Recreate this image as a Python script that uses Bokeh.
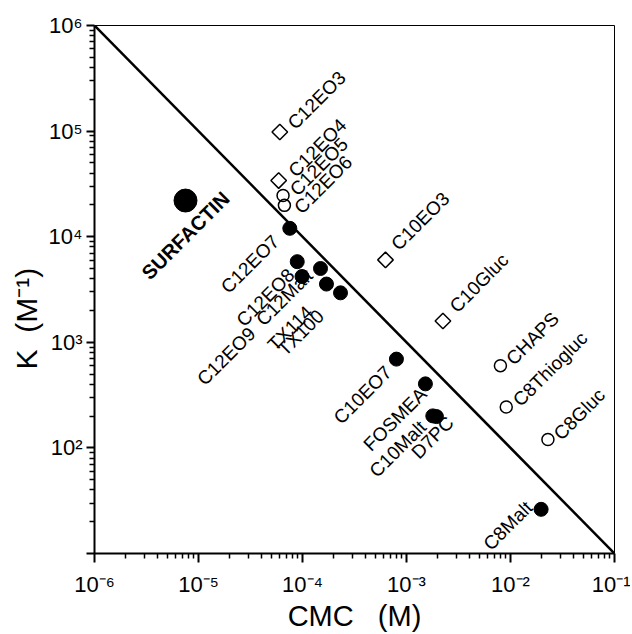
import math
from bokeh.plotting import figure
from bokeh.models import ColumnDataSource, FixedTicker, Range1d
from bokeh.core.properties import value
from bokeh.embed import file_html
from bokeh.resources import INLINE

# ---------------- data ----------------
surf_name = ["SURFACTIN"]
surf_cmc = [7.5e-6]
surf_k = [2.2e4]

filled_names = ["C12EO7", "C12EO8", "C12EO9", "C12Malt", "TX114", "TX100",
                "C10EO7", "FOSMEA", "C10Malt", "D7PC", "C8Malt"]
filled_cmc = [7.55e-5, 8.9e-5, 9.9e-5, 1.49e-4, 1.70e-4, 2.32e-4,
              8.0e-4, 1.52e-3, 1.79e-3, 1.94e-3, 1.97e-2]
filled_k = [1.2e4, 5.8e3, 4.2e3, 5.0e3, 3.56e3, 2.94e3,
            693, 404, 201, 198, 26.2]

open_names = ["C12EO5", "C12EO6", "CHAPS", "C8Thiogluc", "C8Gluc"]
open_cmc = [6.5e-5, 6.7e-5, 8.0e-3, 9.1e-3, 2.29e-2]
open_k = [2.46e4, 1.98e4, 601, 244, 120]

diam_names = ["C12EO3", "C12EO4", "C10EO3", "C10Gluc"]
diam_cmc = [6.05e-5, 5.9e-5, 6.28e-4, 2.24e-3]
diam_k = [9.8e4, 3.4e4, 6.03e3, 1.59e3]

# reference line K * CMC = 1
line_cmc = [1e-6, 1e-1]
line_k = [1e6, 1e1]

x_major = [1e-6, 1e-5, 1e-4, 1e-3, 1e-2, 1e-1]
x_labels = ["10\u207b\u2076", "10\u207b\u2075", "10\u207b\u2074",
            "10\u207b\u00b3", "10\u207b\u00b2", "10\u207b\u00b9"]
y_major = [1e1, 1e2, 1e3, 1e4, 1e5, 1e6]
y_labels = ["", "10\u00b2", "10\u00b3", "10\u2074", "10\u2075", "10\u2076"]

# ---------------- label placement (screen px offsets) ----------------
right_off = {  # text starts here (left aligned)
    "C12EO3": (11, -6), "C12EO4": (13, -7), "C12EO5": (10, -3),
    "C12EO6": (13, 5), "C10EO3": (9, -13), "C10Gluc": (10, -12),
    "CHAPS": (9, -4), "C8Thiogluc": (10, -4), "C8Gluc": (9, -3),
}
left_off = {  # text ends here (right aligned)
    "C12EO7": (-14, 10), "C12EO8": (-6, 10), "C12EO9": (-50, 54),
    "C12Malt": (-11, 4), "TX114": (-17, 25), "TX100": (-20, 20),
    "C10EO7": (-8, 10), "FOSMEA": (-2, 7), "C10Malt": (-10, 8),
    "D7PC": (14, 3), "C8Malt": (-12, -5),
}

FONT = "Liberation Sans"

p = figure(width=630, height=634, x_axis_type="log", y_axis_type="log",
           x_range=Range1d(1e-6, 1e-1), y_range=Range1d(1e1, 1e6),
           output_backend="svg", toolbar_location=None,
           min_border_left=94, min_border_right=16,
           min_border_top=25, min_border_bottom=76)
p.background_fill_color = "white"
p.border_fill_color = "white"
p.outline_line_color = "black"
p.outline_line_width = 1
p.xgrid.visible = False
p.ygrid.visible = False

x_minor = [m * 10.0 ** e for e in range(-6, -1) for m in range(2, 10)]
y_minor = [m * 10.0 ** e for e in range(1, 6) for m in range(2, 10)]
p.xaxis.ticker = FixedTicker(ticks=x_major, minor_ticks=x_minor)
p.yaxis.ticker = FixedTicker(ticks=y_major, minor_ticks=y_minor)
p.xaxis.major_label_overrides = dict(zip(x_major, x_labels))
p.yaxis.major_label_overrides = dict(zip(y_major, y_labels))

for ax in (p.xaxis, p.yaxis):
    ax.axis_line_width = 2
    ax.axis_line_color = "black"
    ax.major_tick_line_width = 2
    ax.minor_tick_line_width = 1.5
    ax.major_tick_line_color = "black"
    ax.minor_tick_line_color = "black"
    ax.major_tick_in = 0
    ax.minor_tick_in = 0
    ax.major_label_text_font = FONT
    ax.major_label_text_font_size = "22px"
    ax.major_label_text_color = "black"
    ax.axis_label_text_font = FONT
    ax.axis_label_text_font_style = "normal"
    ax.axis_label_text_color = "black"

p.xaxis.axis_label_text_font_size = "29px"
p.yaxis.axis_label_text_font_size = "30px"
p.xaxis.major_tick_out = 9
p.xaxis.minor_tick_out = 5
p.yaxis.major_tick_out = 8
p.yaxis.minor_tick_out = 5
p.xaxis.major_label_standoff = 9
p.yaxis.major_label_standoff = 4
p.xaxis.axis_label_standoff = 0
p.yaxis.axis_label_standoff = 3
p.xaxis.axis_label = "CMC\u00a0\u00a0\u00a0(M)"
p.yaxis.axis_label = "K\u00a0\u00a0(M\u207b\u00b9)" + "\u00a0" * 7

# line
p.line(line_cmc, line_k, line_color="black", line_width=2.5)

# markers
p.scatter(surf_cmc, surf_k, size=23, marker="circle", fill_color="black", line_color="black")
p.scatter(filled_cmc, filled_k, size=14, marker="circle", fill_color="black", line_color="black")
p.scatter(open_cmc, open_k, size=12, marker="circle", fill_color=None,
          line_color="black", line_width=1.5)
p.scatter(diam_cmc, diam_k, size=11, marker="square", angle=math.pi / 4,
          fill_color=None, line_color="black", line_width=1.5)

# labels
r_names = open_names + diam_names
r_x = open_cmc + diam_cmc
r_y = open_k + diam_k
src_r = ColumnDataSource(dict(x=r_x, y=r_y, t=r_names,
                              xo=[right_off[n][0] for n in r_names],
                              yo=[right_off[n][1] for n in r_names]))
src_l = ColumnDataSource(dict(x=filled_cmc, y=filled_k, t=filled_names,
                              xo=[left_off[n][0] for n in filled_names],
                              yo=[left_off[n][1] for n in filled_names]))
src_s = ColumnDataSource(dict(x=surf_cmc, y=surf_k, t=surf_name, xo=[0], yo=[35]))

common = dict(angle=math.pi / 4, text_baseline="middle", text_font=value(FONT),
              text_color="black", x_offset="xo", y_offset="yo")
p.text(x="x", y="y", text="t", source=src_r, text_align="left",
       text_font_size="19px", **common)
p.text(x="x", y="y", text="t", source=src_l, text_align="right",
       text_font_size="19px", **common)
p.text(x="x", y="y", text="t", source=src_s, text_align="center",
       text_font_size="20px", text_font_style="bold", **common)

open("out.html", "w").write(file_html(p, INLINE))
